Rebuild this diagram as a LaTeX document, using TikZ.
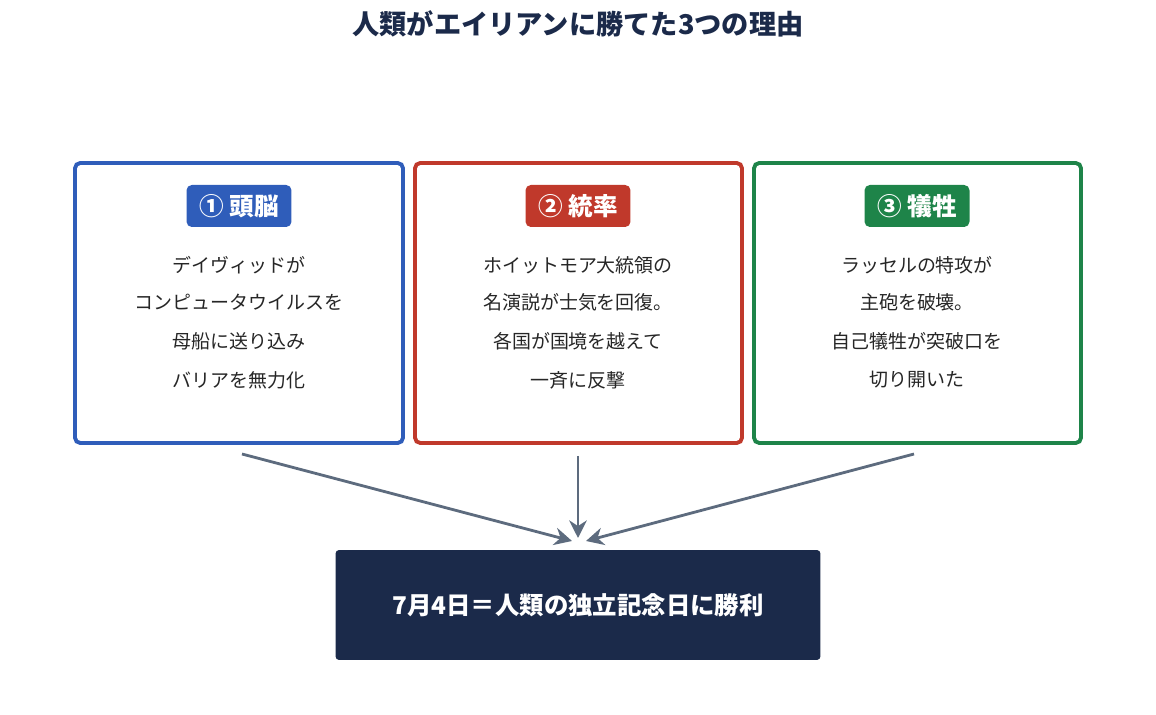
\documentclass[tikz,border=0pt]{standalone}
\usepackage{fontspec}
\setmainfont{Noto Sans CJK JP}
\usetikzlibrary{arrows.meta}
\definecolor{navy}{HTML}{1B2A4A}
\definecolor{cblue}{HTML}{2F5DBA}
\definecolor{cred}{HTML}{C0392B}
\definecolor{cgreen}{HTML}{1E8449}
\definecolor{arrowgray}{HTML}{5D6B7E}
\tikzset{
	card/.style={draw=#1, line width=2.2pt, rounded corners=3pt},
	badge/.style={fill=#1, rounded corners=3pt, text=white, font=\fontsize{14}{15}\selectfont\bfseries,
		minimum width=2.1cm, minimum height=0.84cm, inner sep=0pt},
	line/.style={font=\fontsize{10.8}{12}\selectfont, text=black!85},
	flow/.style={draw=arrowgray, line width=1.6pt, -{Stealth[length=10pt,width=10pt]}}
}
\begin{document}
\begin{tikzpicture}[x=0.02cm, y=-0.02cm]
	\useasboundingbox (0,0) rectangle (1156,715);
	% Titel
	\node[font=\fontsize{15.5}{17}\selectfont\bfseries, text=navy] (title) at (578,24) {人類がエイリアンに勝てた3つの理由};
	% Karten
	\draw[card=cblue] (75,163) rectangle (403,443);
	\node[badge=cblue] (brain) at (239,206) {① 頭脳};
	\node[line] (b1) at (239,265) {デイヴィッドが};
	\node[line] (b2) at (239,302) {コンピュータウイルスを};
	\node[line] (b3) at (239,341) {母船に送り込み};
	\node[line] (b4) at (239,380) {バリアを無力化};
	\draw[card=cred] (415,163) rectangle (742,443);
	\node[badge=cred] (lead) at (578,206) {② 統率};
	\node[line] (l1) at (578,265) {ホイットモア大統領の};
	\node[line] (l2) at (578,302) {名演説が士気を回復。};
	\node[line] (l3) at (578,341) {各国が国境を越えて};
	\node[line] (l4) at (578,380) {一斉に反撃};
	\draw[card=cgreen] (754,163) rectangle (1081,443);
	\node[badge=cgreen] (sacr) at (917,206) {③ 犠牲};
	\node[line] (s1) at (917,265) {ラッセルの特攻が};
	\node[line] (s2) at (917,302) {主砲を破壊。};
	\node[line] (s3) at (917,341) {自己犠牲が突破口を};
	\node[line] (s4) at (917,380) {切り開いた};
	% Ergebnis
	\node[fill=navy, rounded corners=2pt, minimum width=9.7cm, minimum height=2.2cm,
		text=white, font=\fontsize{13.9}{15}\selectfont\bfseries] (result) at (578,605) {7月4日＝人類の独立記念日に勝利};
	% Pfeile
	\coordinate (f1) at (242,454);
	\coordinate (f2) at (578,456);
	\coordinate (f3) at (914,454);
	\coordinate (t1) at (572,541);
	\coordinate (t2) at (578,538);
	\coordinate (t3) at (586,541);
	\draw[flow] (f1) -- (t1);
	\draw[flow] (f2) -- (t2);
	\draw[flow] (f3) -- (t3);
\end{tikzpicture}
\end{document}
